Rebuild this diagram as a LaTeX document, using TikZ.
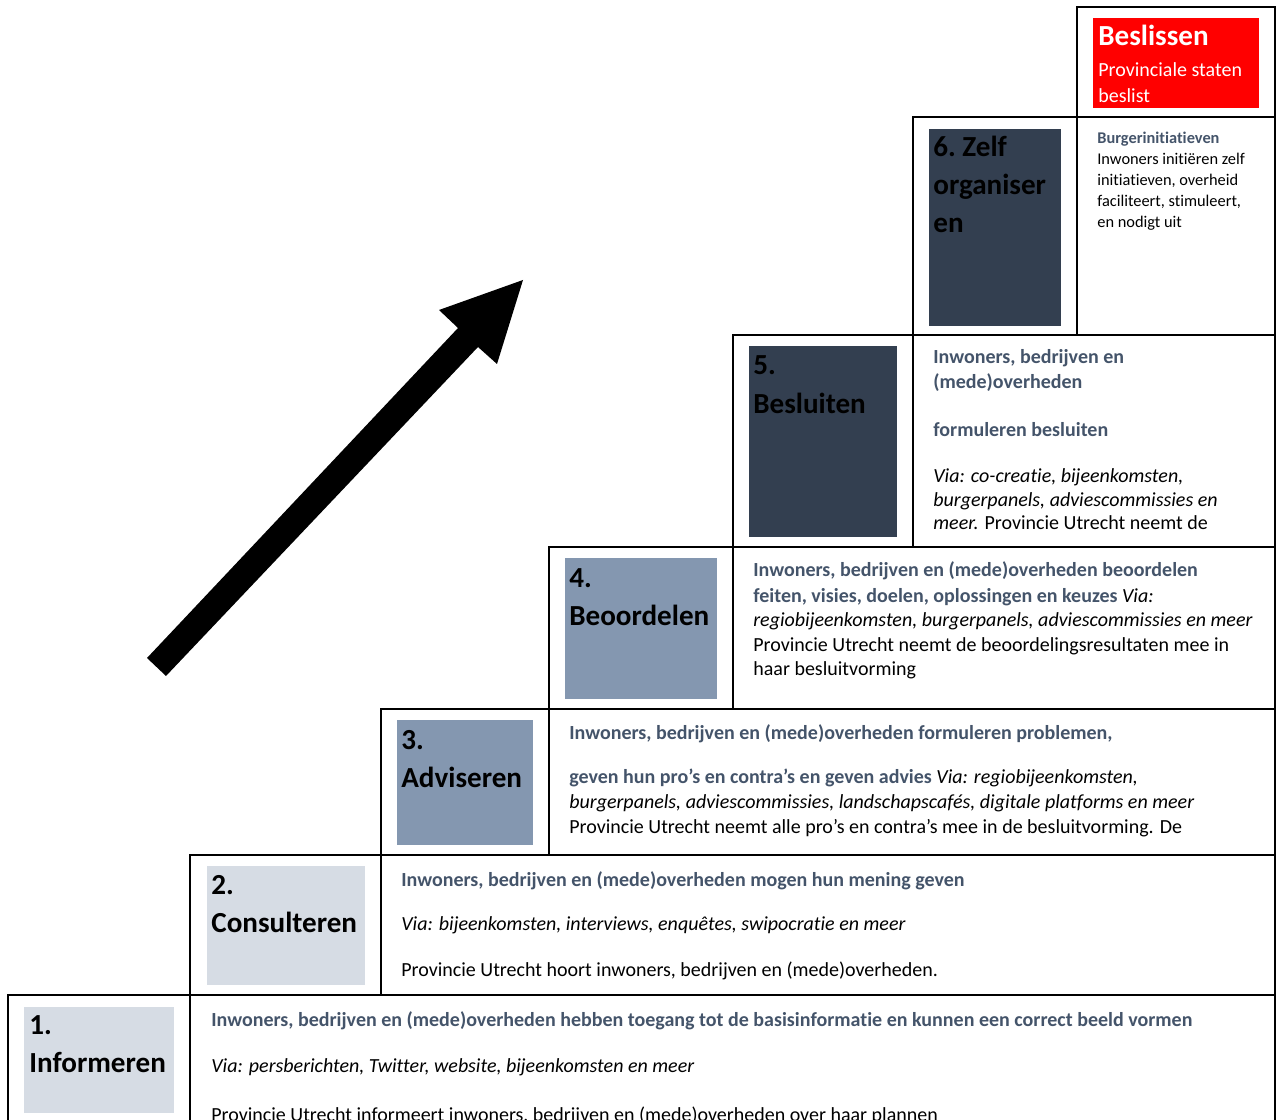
\documentclass[tikz,border=0pt]{standalone}
\usepackage{fontspec}
\setmainfont{Carlito}[Ligatures=NoCommon]
\definecolor{hdr}{HTML}{44546A}
\definecolor{lightbox}{HTML}{D6DCE4}
\definecolor{midbox}{HTML}{8497B0}
\definecolor{darkbox}{HTML}{333F50}
\definecolor{redbox}{HTML}{FF0000}
\begin{document}
\begin{tikzpicture}[x=0.55pt,y=-0.55pt,
  cell/.style={draw=black, line width=1.1pt},
  body/.style={anchor=base west, inner sep=0pt, font=\fontsize{11}{13.4}\selectfont},
  hd/.style={anchor=base west, inner sep=0pt, text=hdr, font=\fontsize{11}{13.4}\selectfont\bfseries},
  it/.style={anchor=base west, inner sep=0pt, font=\fontsize{11}{13.4}\selectfont\itshape},
  ttl/.style={anchor=base west, inner sep=0pt, font=\fontsize{16}{19}\selectfont\bfseries},
  sm/.style={anchor=base west, inner sep=0pt, font=\fontsize{9}{11}\selectfont},
  smhd/.style={sm, text=hdr, font=\fontsize{9}{11}\selectfont\bfseries}]
\useasboundingbox (0,0) rectangle (1279,1120);
\clip (0,0) rectangle (1279,1120);
\fill[white] (0,0) rectangle (1279,1120);

% label boxes
\fill[redbox]   (1093,18)  rectangle (1259,108);
\fill[darkbox]  (929,129)  rectangle (1061,326);
\fill[darkbox]  (749,346)  rectangle (897,537);
\fill[midbox]   (565,558)  rectangle (717,699);
\fill[midbox]   (397,720)  rectangle (533,845);
\fill[lightbox] (207,866)  rectangle (365,985);
\fill[lightbox] (24,1007)  rectangle (174,1113);

% cells
\draw[cell] (1077,7) rectangle (1275,117);
\draw[cell] (913,117) rectangle (1275,335) (1077,117) -- (1077,335);
\draw[cell] (733,335) rectangle (1275,547) (913,335) -- (913,547);
\draw[cell] (549,547) rectangle (1275,709) (733,547) -- (733,709);
\draw[cell] (381,709) rectangle (1275,855) (549,709) -- (549,855);
\draw[cell] (190,855) rectangle (1275,995) (381,855) -- (381,995);
\draw[cell] (8,995) rectangle (1275,1130) (190,995) -- (190,1130);

% arrow
\coordinate (tail) at (157,667);
\coordinate (tip) at (523,280);
\fill[black] (147,658) -- (458,328) -- (439,310) -- (tip) -- (497,364) -- (478,347) -- (166,676) -- cycle;

% Beslissen
\node[ttl, text=white] (bes) at (1098,46) {Beslissen};
\node[body, text=white] (besa) at (1098,77) {Provinciale staten};
\node[body, text=white] (besb) at (1098,103) {beslist};

% 6
\node[ttl] (t6a) at (933,157) {6.~Zelf};
\node[ttl] (t6b) at (933,195) {organiser};
\node[ttl] (t6c) at (933,233) {en};
\node[smhd] (r6a) at (1097,143.5) {Burgerinitiatieven};
\node[sm] (r6b) at (1097,164.5) {Inwoners initiëren zelf};
\node[sm] (r6c) at (1097,185.5) {initiatieven, overheid};
\node[sm] (r6d) at (1097,206.5) {faciliteert, stimuleert,};
\node[sm] (r6e) at (1097,227.5) {en nodigt uit};

% 5
\node[ttl] (t5a) at (753,375) {5.};
\node[ttl] (t5b) at (753,413) {Besluiten};
\node[hd] (r5a) at (933,364) {Inwoners, bedrijven en};
\node[hd] (r5b) at (933,389) {(mede)overheden};
\node[hd] (r5c) at (933,436) {formuleren besluiten};
\node[it] (r5d) at (933,483) {Via: co-creatie, bijeenkomsten,};
\node[it] (r5e) at (933,507) {burgerpanels, adviescommissies en};
\node[body] (r5f) at (933,530) {\textit{meer.} Provincie Utrecht neemt de};

% 4
\node[ttl] (t4a) at (569,587) {4.};
\node[ttl] (t4b) at (569,625) {Beoordelen};
\node[hd] (r4a) at (753,577) {Inwoners, bedrijven en (mede)overheden beoordelen};
\node[body] (r4b) at (753,602) {{\color{hdr}\bfseries feiten, visies, doelen, oplossingen en keuzes} \textit{Via:}};
\node[it] (r4c) at (753,626) {regiobijeenkomsten, burgerpanels, adviescommissies en meer};
\node[body] (r4d) at (753,651) {Provincie Utrecht neemt de beoordelingsresultaten mee in};
\node[body] (r4e) at (753,675) {haar besluitvorming};

% 3
\node[ttl] (t3a) at (401,749) {3.};
\node[ttl] (t3b) at (401,787) {Adviseren};
\node[hd] (r3a) at (569,739) {Inwoners, bedrijven en (mede)overheden formuleren problemen,};
\node[body] (r3b) at (569,783) {{\color{hdr}\bfseries geven hun pro’s en contra’s en geven advies} \textit{Via: regiobijeenkomsten,}};
\node[it] (r3c) at (569,808) {burgerpanels, adviescommissies, landschapscafés, digitale platforms en meer};
\node[body] (r3d) at (569,833) {Provincie Utrecht neemt alle pro’s en contra’s mee in de besluitvorming. De};

% 2
\node[ttl] (t2a) at (211,894) {2.};
\node[ttl] (t2b) at (211,932) {Consulteren};
\node[hd] (r2a) at (401,886) {Inwoners, bedrijven en (mede)overheden mogen hun mening geven};
\node[it] (r2b) at (401,930) {Via: bijeenkomsten, interviews, enquêtes, swipocratie en meer};
\node[body] (r2c) at (401,976) {Provincie Utrecht hoort inwoners, bedrijven en (mede)overheden.};

% 1
\node[ttl] (t1a) at (29,1034) {1.};
\node[ttl] (t1b) at (29,1072) {Informeren};
\node[hd] (r1a) at (211,1026) {Inwoners, bedrijven en (mede)overheden hebben toegang tot de basisinformatie en kunnen een correct beeld vormen};
\node[it] (r1b) at (211,1072) {Via: persberichten, Twitter, website, bijeenkomsten en meer};
\node[body] (r1c) at (211,1121) {Provincie Utrecht informeert inwoners, bedrijven en (mede)overheden over haar plannen};
\end{tikzpicture}
\end{document}
